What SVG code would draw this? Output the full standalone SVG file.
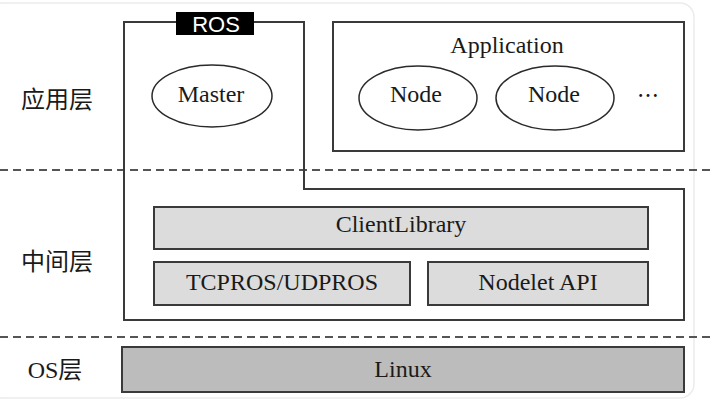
<svg xmlns="http://www.w3.org/2000/svg" width="712" height="401" viewBox="0 0 712 401">
<style>
.ln{fill:none;stroke:#3a3a3a;stroke-width:2}
.box{stroke:#3a3a3a;stroke-width:2}
.light{fill:#dcdcdc}
.dark{fill:#bcbcbc}
.ell{fill:#fff;stroke:#2a2a2a;stroke-width:1.5}
.t{font-family:"Liberation Serif","Noto Sans CJK SC",serif;font-size:24px;fill:#1a1a1a;text-anchor:middle}
.cn{font-family:"Liberation Serif","Noto Sans CJK SC",serif;font-size:24px;fill:#1a1a1a;text-anchor:middle}
.dash{fill:none;stroke:#555;stroke-width:2;stroke-dasharray:8 5}
</style>
<rect x="-12" y="3" width="706" height="395" rx="14" fill="#fff" stroke="#ececec" stroke-width="1.5"/>
<g id="layers">
<line class="dash" x1="0" y1="170" x2="712" y2="170"/>
<line class="dash" x1="0" y1="337" x2="712" y2="337"/>
<text class="cn" x="57" y="108">应用层</text>
<text class="cn" x="57" y="270">中间层</text>
<text class="cn" x="55" y="378">OS层</text>
</g>
<g id="ros">
<path class="ln" d="M176 22 H124 V320 H684 V189 H304 V22 H253"/>
<rect x="176" y="12" width="78" height="23" fill="#000"/>
<text x="216" y="32" font-family="Liberation Sans, sans-serif" font-size="22" fill="#fff" text-anchor="middle">ROS</text>
</g>
<g id="master">
<ellipse class="ell" cx="212" cy="96" rx="60" ry="31"/>
<text class="t" x="211" y="102">Master</text>
</g>
<g id="application">
<rect class="ln" x="333" y="22" width="351" height="129"/>
<text class="t" x="507" y="53">Application</text>
</g>
<g id="node1">
<ellipse class="ell" cx="418" cy="98" rx="59" ry="32"/>
<text class="t" x="416" y="102">Node</text>
</g>
<g id="node2">
<ellipse class="ell" cx="555" cy="98" rx="59" ry="32"/>
<text class="t" x="554" y="102">Node</text>
</g>
<g id="more">
<text x="648" y="103" font-family="Noto Sans CJK SC, sans-serif" font-size="22" fill="#1a1a1a" text-anchor="middle">…</text>
</g>
<g id="clientlibrary">
<rect class="box light" x="154" y="207" width="494" height="42"/>
<text class="t" x="401" y="232">ClientLibrary</text>
</g>
<g id="tcpros">
<rect class="box light" x="154" y="262" width="256" height="43"/>
<text class="t" x="282" y="290">TCPROS/UDPROS</text>
</g>
<g id="nodelet">
<rect class="box light" x="428" y="262" width="220" height="43"/>
<text class="t" x="538" y="290">Nodelet API</text>
</g>
<g id="linux">
<rect class="box dark" x="122" y="347" width="562" height="45"/>
<text class="t" x="403" y="377">Linux</text>
</g>
<g id="connectors"></g>
</svg>
